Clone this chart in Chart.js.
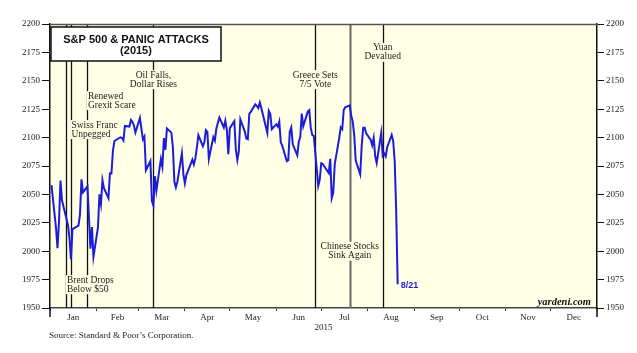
<!DOCTYPE html>
<html><head><meta charset="utf-8">
<script src="https://cdn.jsdelivr.net/npm/chart.js@4.4.1/dist/chart.umd.min.js"></script>
<style>html,body{margin:0;padding:0;background:#fff;}canvas{display:block;}</style>
</head><body>
<canvas id="c" width="637" height="353"></canvas>
<script>
// ---- data ----
const tradeDates = [
'01-02','01-05','01-06','01-07','01-08','01-09','01-12','01-13','01-14','01-15','01-16','01-20','01-21','01-22','01-23','01-26','01-27','01-28','01-29','01-30',
'02-02','02-03','02-04','02-05','02-06','02-09','02-10','02-11','02-12','02-13','02-17','02-18','02-19','02-20','02-23','02-24','02-25','02-26','02-27',
'03-02','03-03','03-04','03-05','03-06','03-09','03-10','03-11','03-12','03-13','03-16','03-17','03-18','03-19','03-20','03-23','03-24','03-25','03-26','03-27','03-30','03-31',
'04-01','04-02','04-06','04-07','04-08','04-09','04-10','04-13','04-14','04-15','04-16','04-17','04-20','04-21','04-22','04-23','04-24','04-27','04-28','04-29','04-30',
'05-01','05-04','05-05','05-06','05-07','05-08','05-11','05-12','05-13','05-14','05-15','05-18','05-19','05-20','05-21','05-22','05-26','05-27','05-28','05-29',
'06-01','06-02','06-03','06-04','06-05','06-08','06-09','06-10','06-11','06-12','06-15','06-16','06-17','06-18','06-19','06-22','06-23','06-24','06-25','06-26','06-29','06-30',
'07-01','07-02','07-06','07-07','07-08','07-09','07-10','07-13','07-14','07-15','07-16','07-17','07-20','07-21','07-22','07-23','07-24','07-27','07-28','07-29','07-30','07-31',
'08-03','08-04','08-05','08-06','08-07','08-10','08-11','08-12','08-13','08-14','08-17','08-18','08-19','08-20','08-21'];
const spxClose = [
2058.2,2020.6,2002.6,2025.9,2062.1,2044.8,2028.3,2023.0,2011.3,1992.7,2019.4,2022.6,2032.1,2063.2,2051.8,2057.1,2029.6,2002.2,2021.3,1995.0,
2020.9,2050.0,2041.5,2062.5,2055.5,2046.7,2068.6,2068.5,2088.5,2097.0,2100.3,2099.7,2097.5,2110.3,2109.7,2115.5,2113.9,2110.7,2104.5,
2117.4,2107.8,2098.5,2101.0,2071.3,2079.4,2044.2,2040.2,2066.0,2053.4,2081.2,2074.3,2099.5,2089.3,2108.1,2104.4,2091.5,2061.1,2056.2,2061.0,2086.2,2067.9,
2059.7,2067.0,2080.6,2076.3,2081.9,2091.2,2102.1,2092.4,2095.8,2106.6,2105.0,2081.2,2100.4,2097.3,2108.0,2112.9,2117.7,2108.9,2114.8,2106.9,2085.5,
2108.3,2114.5,2089.5,2080.2,2088.0,2116.1,2105.3,2099.1,2098.5,2121.1,2122.7,2129.2,2127.8,2125.9,2130.8,2126.1,2104.2,2123.5,2120.8,2107.4,
2111.7,2109.6,2114.1,2095.8,2092.8,2079.3,2080.2,2105.2,2108.9,2094.1,2084.4,2096.3,2100.4,2121.2,2110.0,2122.9,2124.2,2108.6,2102.3,2101.5,2057.6,2063.1,
2077.4,2076.8,2068.8,2081.3,2046.7,2051.3,2076.6,2099.6,2109.0,2107.4,2124.3,2126.6,2128.3,2119.2,2114.2,2102.2,2079.7,2067.6,2093.3,2108.6,2108.6,2103.8,
2098.0,2093.3,2099.8,2083.6,2077.6,2104.2,2084.1,2086.1,2083.4,2091.5,2102.4,2096.9,2079.6,2035.7,1970.9];
const monthLabels = ['Jan','Feb','Mar','Apr','May','Jun','Jul','Aug','Sep','Oct','Nov','Dec'];
const monthStarts = [0,31,59,90,120,151,181,212,243,273,304,334,365];
const yTickValues = [1950,1975,2000,2025,2050,2075,2100,2125,2150,2175,2200];
const eventDates = ['01-12','01-15','01-26','03-11','06-27','07-20','08-11'];
const eventLabels = [['Brent Drops','Below $50'],['Swiss Franc','Unpegged'],['Renewed','Grexit Scare'],['Oil Falls,','Dollar Rises'],['Greece Sets','7/5 Vote'],['Chinese Stocks','Sink Again'],['Yuan','Devalued']];
const lastLabel = '8/21';

// ---- annotation layout (value-space anchors, alignment, style) ----
const eventLabelLevel = [1974.5, 2111, 2136.5, 2155, 2155, 2004, 2179];
const eventLabelAlign = ['left','left','left','center','center','center','center'];
const eventLineStyle = ['#111','#111','#111','#111','#111','#666','#111'];

function dayOfYear(s){const [m,d]=s.split('-').map(Number);return monthStarts[m-1]+d-1;}
const points = tradeDates.map((s,i)=>({x:dayOfYear(s),y:spxClose[i]}));
const midMonths = monthLabels.map((_,i)=>(monthStarts[i]+monthStarts[i+1])/2);

const BG='#FFFFE6';
const SERIF='"Liberation Serif","Times New Roman",serif';
const SANS='"Liberation Sans",Arial,sans-serif';

const decor = {
  id:'decor',
  beforeDraw(chart){
    const {ctx,chartArea:a}=chart;
    ctx.save();ctx.fillStyle=BG;ctx.fillRect(a.left,a.top,a.right-a.left,a.bottom-a.top);ctx.restore();
  },
  beforeDatasetsDraw(chart){
    const {ctx,chartArea:a,scales}=chart;
    const xs=scales.x, ys=scales.y;
    ctx.save();
    eventDates.forEach((s,i)=>{
      const x=Math.round(xs.getPixelForValue(dayOfYear(s)))+0.5;
      ctx.strokeStyle=eventLineStyle[i];
      ctx.lineWidth= i===5?2:1.3;
      ctx.beginPath();ctx.moveTo(x,a.top);ctx.lineTo(x,a.bottom);ctx.stroke();
    });
    ctx.font='9.5px '+SERIF;
    ctx.textBaseline='middle';
    eventDates.forEach((s,i)=>{
      const x=xs.getPixelForValue(dayOfYear(s));
      const y0=ys.getPixelForValue(eventLabelLevel[i]);
      const lines=eventLabels[i];
      const lh=9;
      lines.forEach((t,j)=>{
        const w=ctx.measureText(t).width;
        const y=y0+j*lh;
        let tx = eventLabelAlign[i]==='left'? x+0.5 : x-w/2;
        ctx.fillStyle=BG;
        ctx.fillRect(tx-1,y-5,w+2,10);
        ctx.fillStyle='#222';
        ctx.textAlign='left';
        ctx.fillText(t,tx,y);
      });
    });
    ctx.restore();
  },
  afterDraw(chart){
    const {ctx,chartArea:a,scales}=chart;
    ctx.save();
    ctx.strokeStyle='#555';ctx.lineWidth=1.5;
    ctx.beginPath();ctx.moveTo(a.left,a.top+0.5);ctx.lineTo(a.right,a.top+0.5);ctx.stroke();
    ctx.strokeStyle='#111';ctx.lineWidth=1.5;
    ctx.beginPath();ctx.moveTo(a.left,a.bottom);ctx.lineTo(a.left,a.bottom+9);
    ctx.moveTo(a.right,a.bottom);ctx.lineTo(a.right,a.bottom+9);ctx.stroke();
    const bx=a.left+1, by=a.top+3, bw=170, bh=34;
    ctx.fillStyle='#fff';ctx.fillRect(bx,by,bw,bh);
    ctx.strokeStyle='#111';ctx.lineWidth=1.5;ctx.strokeRect(bx,by,bw,bh);
    ctx.fillStyle='#111';ctx.font='bold 11px '+SANS;ctx.textAlign='center';ctx.textBaseline='middle';
    ctx.fillText('S&P 500 & PANIC ATTACKS',bx+bw/2,by+12.5);
    ctx.fillText('(2015)',bx+bw/2,by+23.5);
    ctx.font='italic bold 10.5px '+SERIF;ctx.textAlign='right';ctx.fillStyle='#111';
    ctx.fillText('yardeni.com',a.right-6,a.bottom-6);
    const lp=points[points.length-1];
    ctx.font='bold 9px '+SANS;ctx.textAlign='left';ctx.fillStyle='#1c1cdc';
    ctx.fillText(lastLabel,scales.x.getPixelForValue(lp.x)+3,scales.y.getPixelForValue(lp.y)+1);
    ctx.font='9px '+SERIF;ctx.fillStyle='#222';ctx.textAlign='left';
    ctx.fillText('Source: Standard & Poor\u2019s Corporation.',49,336);
    ctx.restore();
  }
};

function yAxis(pos,width,tl){
  return {
    type:'linear',position:pos,min:1950,max:2200,
    afterBuildTicks(s){s.ticks=yTickValues.map(v=>({value:v}));},
    afterFit(s){s.width=width;},
    grid:{drawOnChartArea:false,drawTicks:true,tickLength:tl,color:'#111',lineWidth:1},
    border:{display:true,color:'#111',width:1.5},
    ticks:{padding:2,color:'#222',font:{family:SERIF,size:9},callback:v=>String(v)}
  };
}

new Chart(document.getElementById('c'),{
  type:'line',
  data:{datasets:[{data:points,borderColor:'#1c1cdc',borderWidth:2,pointRadius:0,tension:0,fill:false}]},
  options:{
    responsive:false,animation:false,
    layout:{padding:{top:24,left:0,right:0,bottom:0}},
    plugins:{legend:{display:false},tooltip:{enabled:false}},
    scales:{
      x:{
        type:'linear',min:0,max:365,
        afterBuildTicks(s){s.ticks=monthStarts.concat(midMonths).sort((a,b)=>a-b).map(v=>({value:v}));},
        afterFit(s){s.height=45;},
        grid:{drawOnChartArea:false,tickLength:3,color:c=>(c.tick&&monthStarts.includes(c.tick.value))?'#333':'rgba(0,0,0,0)'},
        border:{display:true,color:'#444',width:1.5},
        ticks:{autoSkip:false,maxRotation:0,padding:1,color:'#222',font:{family:SERIF,size:9},
          callback:(v)=>{const i=midMonths.indexOf(v);return i>=0?monthLabels[i]:'';}},
        title:{display:true,text:'2015',color:'#222',font:{family:SERIF,size:9},padding:{top:0,bottom:20}}
      },
      y:yAxis('left',50,8),
      y2:yAxis('right',40,7)
    }
  },
  plugins:[decor]
});
</script>
</body></html>
